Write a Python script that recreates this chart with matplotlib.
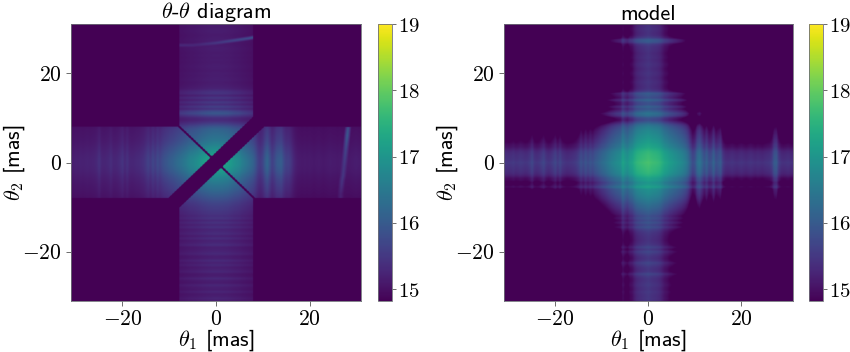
import numpy as np
import matplotlib
matplotlib.use("Agg")
import matplotlib.pyplot as plt

plt.rcParams['font.family'] = ['cmss10', 'DejaVu Sans']
plt.rcParams['mathtext.fontset'] = 'cm'
plt.rcParams['axes.formatter.use_mathtext'] = True

# sample positions of all profiles: -31 .. 31 mas, every 0.5 mas
theta_samples = np.linspace(-31, 31, 125)

# model panel: log-power profile, same along both axes
model_profile = [
 6.56,6.60,6.58,6.60,6.64,6.58,6.60,6.65,6.62,
 6.58,6.60,6.68,6.84,6.62,6.58,6.62,6.72,6.82,6.64,
 6.58,6.62,6.72,6.84,6.66,6.82,6.64,6.58,6.54,6.56,
 6.58,6.62,6.68,6.80,7.00,6.86,7.04,6.90,7.04,6.96,
 7.10,7.18,7.28,7.38,7.46,7.56,7.66,7.76,7.84,7.92,
 7.98,8.04,8.36,8.20,8.12,8.30,8.36,8.55,8.68,8.74,
 8.78,8.82,8.86,8.90,8.84,8.80,8.78,8.74,8.68,8.55,
 8.42,8.36,8.26,8.20,8.12,8.06,7.98,7.92,7.82,7.70,
 7.50,7.18,6.90,7.02,7.42,7.55,7.30,7.05,7.25,6.95,
 7.00,7.30,6.95,7.05,7.15,6.70,6.55,6.52,6.54,6.57,
 6.53,6.50,6.54,6.57,6.53,6.50,6.54,6.57,6.53,6.50,
 6.54,6.52,6.50,6.54,6.57,6.60,6.72,7.10,7.15,6.72,
 6.55,6.52,6.54,6.57,6.53,6.50,
]

# diagram panel: excess above the colour floor along each axis
diagram_theta1 = [
 0.20,0.22,0.24,0.23,0.25,0.24,0.25,0.26,0.25,
 0.26,0.27,0.30,0.38,0.28,0.27,0.28,0.30,0.35,0.28,
 0.28,0.30,0.34,0.40,0.30,0.38,0.29,0.28,0.29,0.31,
 0.32,0.35,0.38,0.44,0.52,0.44,0.56,0.48,0.60,0.54,
 0.62,0.68,0.72,0.77,0.80,0.84,0.89,0.94,0.98,1.03,
 1.08,1.14,1.20,1.22,1.26,1.30,1.36,1.42,1.46,1.50,
 1.54,1.56,1.58,1.58,1.58,1.56,1.55,1.52,1.50,1.44,
 1.38,1.32,1.28,1.24,1.14,1.08,1.02,0.96,0.90,0.82,
 0.68,0.52,0.46,0.54,0.74,0.86,0.68,0.50,0.58,0.72,
 0.76,0.78,0.60,0.50,0.50,0.44,0.32,0.24,0.20,0.19,
 0.18,0.19,0.18,0.19,0.18,0.17,0.18,0.19,0.18,0.17,
 0.18,0.19,0.20,0.19,0.19,0.18,0.19,0.18,0.19,0.18,
 0.18,0.19,0.20,0.21,0.20,0.19,
]
diagram_theta2 = [
 0.20,0.27,0.22,0.20,0.28,0.21,0.23,0.29,0.20,
 0.22,0.30,0.21,0.20,0.29,0.25,0.22,0.30,0.24,0.32,
 0.23,0.22,0.31,0.27,0.24,0.23,0.34,0.28,0.25,0.34,
 0.25,0.34,0.30,0.27,0.37,0.29,0.38,0.30,0.40,0.35,
 0.40,0.42,0.46,0.48,0.52,0.56,0.62,0.68,0.74,0.80,
 0.86,0.92,0.97,1.02,1.08,1.14,1.20,1.28,1.36,1.44,
 1.50,1.54,1.58,1.58,1.58,1.54,1.50,1.44,1.38,1.30,
 1.24,1.16,1.10,1.04,1.00,0.96,0.92,0.88,0.84,0.72,
 0.56,0.42,0.32,0.36,0.54,0.72,0.62,0.38,0.50,0.34,
 0.45,0.30,0.42,0.28,0.40,0.36,0.26,0.23,0.21,0.20,
 0.22,0.21,0.20,0.21,0.19,0.20,0.21,0.20,0.19,0.20,
 0.19,0.20,0.19,0.20,0.21,0.20,0.19,0.20,0.21,0.20,
 0.19,0.20,0.21,0.20,0.19,0.20,
]

# bright arcs in the diagram panel
arc_right_theta1 = [28.3,28.2,28.1,28.0,27.9,27.8,27.7,27.6,27.5,27.4,27.3,27.2,27.0,26.9,26.8,26.7]
arc_right_theta2 = [8,7,6,5,4,3,2,1,0,-1,-2,-3,-4,-5,-6,-7]
arc_right_value = [15.8,15.95,16.0,15.9,15.8,15.7,15.65,15.6,15.55,15.5,15.5,15.5,15.45,15.4,15.3,15.2]
arc_top_theta1 = [-5,-4,-3,-2,-1,0,1,2,3,4,5,6,7,7.8]
arc_top_theta2 = [26.3,26.4,26.5,26.6,26.7,26.8,26.95,27.1,27.25,27.4,27.55,27.7,27.85,28.0]
arc_top_value = [15.3,15.3,15.35,15.4,15.45,15.5,15.55,15.6,15.65,15.7,15.75,15.8,15.85,15.9]

vmin, vmax = 14.82, 19.0
half = 31.0
ticks = [-20, 0, 20]
cbar_ticks = [15, 16, 17, 18, 19]
W, H = 850, 352

fine = np.linspace(-half, half, 621)
X, Y = np.meshgrid(fine, fine)

# model
g = np.interp(fine, theta_samples, model_profile)
model = g[None, :] + g[:, None]

# diagram
a = np.interp(fine, theta_samples, diagram_theta1)
b = np.interp(fine, theta_samples, diagram_theta2)
diagram = vmin + a[None, :] * b[:, None]
for xs, ys, vs, wx, wy in [(arc_right_theta1, arc_right_theta2, arc_right_value, 0.75, 0.0),
                           (arc_top_theta1, arc_top_theta2, arc_top_value, 0.0, 0.55)]:
    order = np.argsort(ys) if wx else np.argsort(xs)
    xs, ys, vs = np.array(xs)[order], np.array(ys)[order], np.array(vs)[order]
    if wx:
        c = np.interp(Y, ys, xs); v = np.interp(Y, ys, vs)
        d = (X - c) / wx
        inside = np.abs(Y) < 8
    else:
        c = np.interp(X, xs, ys); v = np.interp(X, xs, vs)
        d = (Y - c) / wy
        inside = np.abs(X) < 8
    arc = np.clip(1 - np.abs(d), 0, 1)
    diagram = np.where(inside, np.maximum(diagram, diagram + (v - diagram) * arc), diagram)

keep = ((np.abs(X - 0.1) < 7.9) | (np.abs(Y - 0.1) < 8.0)) \
       & (np.abs(Y - X) > 2.3) & (np.abs(X + Y - 0.2) > 0.3)
diagram = np.where(keep, diagram, vmin)


def px_axes(fig, x0, x1, y0=24, y1=301):
    return fig.add_axes([x0 / W, 1 - y1 / H, (x1 - x0) / W, (y1 - y0) / H])


def style(ax):
    for s in ax.spines.values():
        s.set_linewidth(0.6)
        s.set_color('#6f6f78')
    ax.tick_params(length=3.5, width=0.6, color='#555555', pad=3)


fig = plt.figure(figsize=(W / 100, H / 100), dpi=100)

panels = [
 (diagram, r"$\theta$-$\theta$ diagram", 71, 361, 378, 392),
 (model, "model", 504, 792.5, 809, 822.5),
]
for data, title, x0, x1, c0, c1 in panels:
    ax = px_axes(fig, x0, x1)
    im = ax.imshow(data, origin='lower', extent=[-half, half, -half, half], aspect='auto',
                   cmap='viridis', vmin=vmin, vmax=vmax, interpolation='bilinear')
    ax.set_xticks(ticks)
    ax.set_yticks(ticks)
    lab = [f"${t}$" for t in ticks]
    ax.set_xticklabels(lab, fontsize=15.5)
    ax.set_yticklabels(lab, fontsize=15.5)
    ax.set_xlabel(r"$\theta_1$ [mas]", fontsize=16, labelpad=-1)
    ax.set_ylabel(r"$\theta_2$ [mas]", fontsize=16, labelpad=-3)
    ax.set_title(title, fontsize=16, pad=0)
    style(ax)
    cax = px_axes(fig, c0, c1)
    cb = fig.colorbar(im, cax=cax)
    cb.set_ticks(cbar_ticks)
    cb.set_ticklabels([f"${t}$" for t in cbar_ticks], fontsize=15)
    cb.outline.set_linewidth(0.6)
    cb.outline.set_edgecolor('#6f6f78')
    cax.tick_params(length=3, width=0.6, color='#555555', pad=1.5)

fig.savefig("out.png", dpi=100)
